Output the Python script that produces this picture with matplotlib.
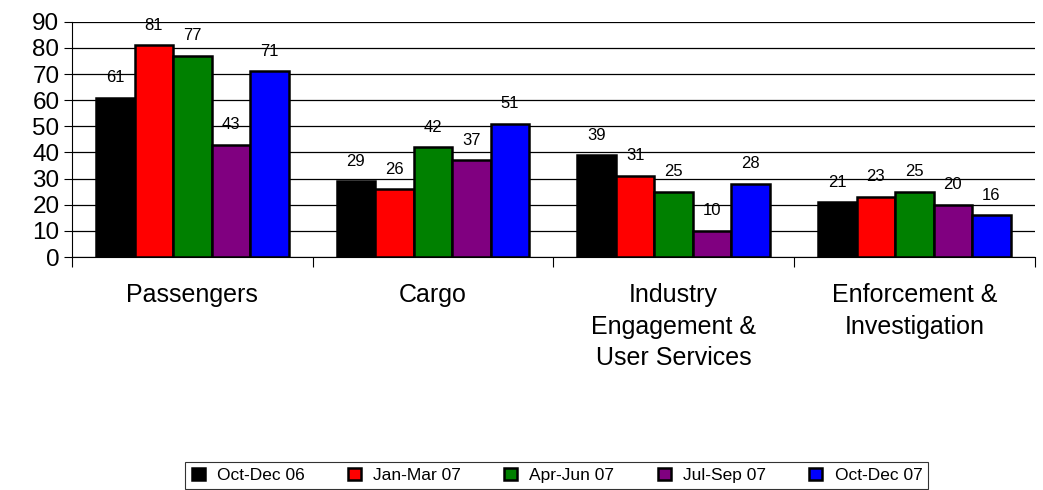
import matplotlib.pyplot as plt
import numpy as np

plt.rcParams['font.family'] = ['Liberation Sans', 'DejaVu Sans']

# datos
categorias = ['Passengers', 'Cargo', 'Industry\nEngagement &\nUser Services',
              'Enforcement &\nInvestigation']
periodos = ['Oct-Dec 06', 'Jan-Mar 07', 'Apr-Jun 07', 'Jul-Sep 07', 'Oct-Dec 07']
oct_dec_06 = [61, 29, 39, 21]
jan_mar_07 = [81, 26, 31, 23]
apr_jun_07 = [77, 42, 25, 25]
jul_sep_07 = [43, 37, 10, 20]
oct_dec_07 = [71, 51, 28, 16]
colores = ['#000000', '#ff0000', '#008000', '#800080', '#0000ff']

series = [oct_dec_06, jan_mar_07, apr_jun_07, jul_sep_07, oct_dec_07]

fig = plt.figure(figsize=(10.43, 4.9), dpi=100)
ax = fig.add_axes([0.069, 0.4755, 0.923, 0.48])

x = np.arange(len(categorias))
ancho = 0.16
for i, (vals, nombre, c) in enumerate(zip(series, periodos, colores)):
    pos = x + (i - 2) * ancho
    barras = ax.bar(pos, vals, ancho, color=c, edgecolor='black', linewidth=1.8,
                    label=nombre, zorder=3)
    for b, v in zip(barras, vals):
        ax.annotate(str(v), (b.get_x() + b.get_width() / 2, v),
                    xytext=(0, 9), textcoords='offset points',
                    ha='center', va='bottom', fontsize=12)

ax.set_xlim(-0.5, len(categorias) - 0.5)
ax.set_ylim(0, 90)
ax.set_yticks(range(0, 91, 10))
ax.tick_params(axis='y', labelsize=17.5, length=6, direction='out', pad=3)
ax.yaxis.grid(True, color='black', linewidth=0.9, zorder=0)

# ticks del eje x en los limites de cada categoria
ax.set_xticks(np.arange(-0.5, len(categorias), 1))
ax.set_xticklabels([])
ax.tick_params(axis='x', length=7, direction='out')
ax.set_xticks(x, minor=True)
ax.set_xticklabels(categorias, minor=True, fontsize=18, linespacing=1.38)
ax.tick_params(axis='x', which='minor', length=0, pad=19)

ax.spines['top'].set_visible(False)
ax.spines['right'].set_visible(False)

leg = fig.legend(loc='center', bbox_to_anchor=(0.534, 0.03), ncol=5,
                 fontsize=12.5, handlelength=0.75, handleheight=0.75,
                 handletextpad=0.7, columnspacing=2.5, fancybox=False,
                 edgecolor='black', borderpad=0.35)
leg.get_frame().set_linewidth(0.8)

plt.savefig('out.png', dpi=100)
